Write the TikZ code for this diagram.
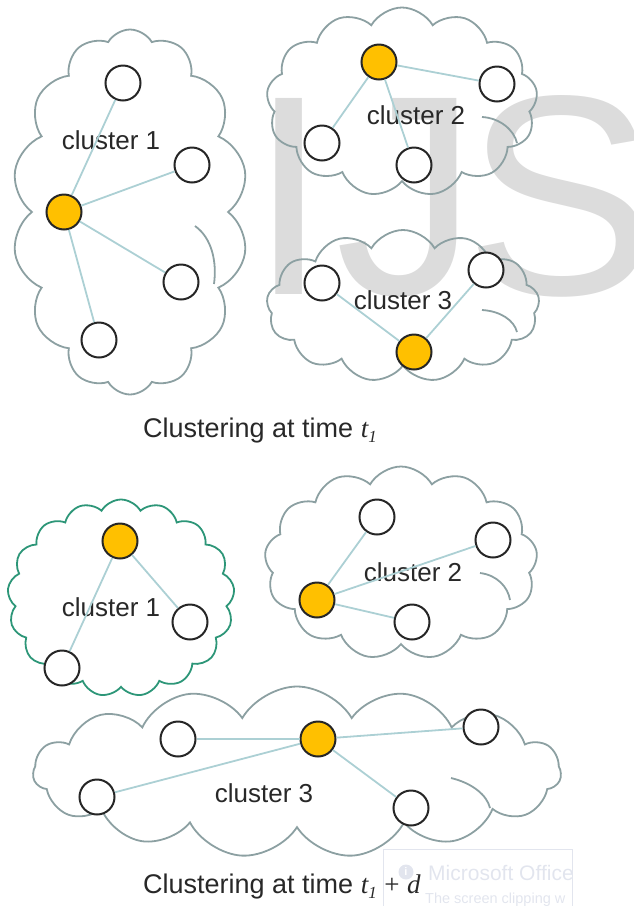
\documentclass[tikz,border=0pt]{standalone}
\usepackage{fontspec}
\setmainfont{Liberation Sans}
\newfontfamily\timesf{Liberation Serif}
\usetikzlibrary{shapes.symbols}
\definecolor{cloudc}{RGB}{140,160,162}
\definecolor{greenc}{RGB}{45,150,120}
\definecolor{edgec}{RGB}{172,208,212}
\definecolor{orangec}{RGB}{255,192,0}
\definecolor{ringc}{RGB}{38,38,38}
\definecolor{textc}{RGB}{40,40,40}
\definecolor{wmc}{RGB}{220,220,220}
\definecolor{faintc}{RGB}{226,229,238}
\tikzset{
 cl/.style={cloud, cloud ignores aspect, draw=cloudc, line width=1.8pt, inner sep=0pt, cloud puff arc=120},
 inarc/.style={draw=cloudc, line width=1.8pt},
 wn/.style={circle, draw=ringc, line width=2pt, fill=white, minimum size=35pt, inner sep=0pt},
 on/.style={wn, fill=orangec},
 ed/.style={draw=edgec, line width=1.8pt},
 lab/.style={font=\fontsize{26}{30}\selectfont, text=textc, inner sep=0pt},
 captext/.style={font=\fontsize{27}{32}\selectfont, text=textc, inner sep=0pt, anchor=base west},
 wmark/.style={anchor=base west, inner sep=0pt, text=wmc, font=\fontsize{285}{285}\selectfont},
}
\newcommand{\subone}{\raisebox{-5pt}{\fontsize{17}{17}\selectfont\timesf\itshape 1}}
\begin{document}
\begin{tikzpicture}[x=1pt,y=-1pt]
\useasboundingbox (0,0) rectangle (633,906);
\clip (0,0) rectangle (633,906);
% watermark
\node[wmark] (wmI) at (249,294) {I};
\node[wmark] (wmJ) at (335,294) {J};
\node[wmark] (wmS) at (465,294) {S};

% ---------- top: clouds
\node[cl, cloud puffs=14, minimum width=236pt, minimum height=365pt] (k1) at (130,212) {};
\node[cl, cloud puffs=13, minimum width=271pt, minimum height=189pt] (k2) at (402,102) {};
\node[cl, cloud puffs=13, minimum width=273pt, minimum height=152pt] (k3) at (403,306) {};
\draw[inarc] (195,226) .. controls (212,238) and (217,262) .. (214,284);
\draw[inarc] (482,117) .. controls (500,118) and (514,130) .. (517,143);
\draw[inarc] (482,310) .. controls (500,311) and (514,320) .. (517,332);

% top cluster 1
\node[wn] (a1) at (123,83) {};
\node[wn] (a2) at (192,165) {};
\node[on] (ao) at (64,212) {};
\node[wn] (a3) at (181,282) {};
\node[wn] (a4) at (99,340) {};
\node[lab] (la) at (111,140) {cluster 1};
\draw[ed] (ao) -- (a1); \draw[ed] (ao) -- (a2); \draw[ed] (ao) -- (a3); \draw[ed] (ao) -- (a4);

% top cluster 2
\node[on] (bo) at (379,62) {};
\node[wn] (b1) at (497,84) {};
\node[wn] (b2) at (322,143) {};
\node[wn] (b3) at (414,165) {};
\node[lab] (lb) at (416,115) {cluster 2};
\draw[ed] (bo) -- (b1); \draw[ed] (bo) -- (b2); \draw[ed] (bo) -- (b3);

% top cluster 3
\node[wn] (c1) at (322,283) {};
\node[wn] (c2) at (486,270) {};
\node[on] (co) at (414,352) {};
\node[lab] (lc) at (403,300) {cluster 3};
\draw[ed] (co) -- (c1); \draw[ed] (co) -- (c2);

\node[captext] (cap1) at (143,437) {Clustering at time {\timesf\itshape t}\subone};

% ---------- bottom: clouds
\node[cl, draw=greenc, cloud puffs=17, minimum width=227pt, minimum height=197pt] (m1) at (121,598) {};
\node[cl, cloud puffs=13, minimum width=273pt, minimum height=193pt] (m2) at (401,563) {};
\node[cl, cloud puffs=15, minimum width=528pt, minimum height=171pt] (m3) at (297,772) {};
\draw[inarc] (480,573) .. controls (497,575) and (508,587) .. (510,600);
\draw[inarc] (451,778) .. controls (472,783) and (487,795) .. (490,808);

% bottom cluster 1
\node[on] (do) at (120,541) {};
\node[wn] (d1) at (190,622) {};
\node[wn] (d2) at (62,668) {};
\node[lab] (ld) at (111,607) {cluster 1};
\draw[ed] (do) -- (d1); \draw[ed] (do) -- (d2);

% bottom cluster 2
\node[wn] (e1) at (377,517) {};
\node[wn] (e2) at (493,540) {};
\node[on] (eo) at (317,600) {};
\node[wn] (e3) at (412,622) {};
\node[lab] (le) at (413,572) {cluster 2};
\draw[ed] (eo) -- (e1); \draw[ed] (eo) -- (e2); \draw[ed] (eo) -- (e3);

% bottom cluster 3
\node[wn] (f1) at (178,739) {};
\node[wn] (f2) at (97,797) {};
\node[on] (fo) at (318,739) {};
\node[wn] (f3) at (481,727) {};
\node[wn] (f4) at (411,808) {};
\node[lab] (lf) at (264,793) {cluster 3};
\draw[ed] (fo) -- (f1); \draw[ed] (fo) -- (f2); \draw[ed] (fo) -- (f3); \draw[ed] (fo) -- (f4);

% faint screen-clipping overlay (behind the caption)
\draw[draw=faintc, line width=0.8pt] (383,849) rectangle (572,912);
\node[circle, fill=faintc, minimum size=15pt, inner sep=0pt, text=white, font=\bfseries\fontsize{11}{11}\selectfont] (ic) at (406,872) {i};
\node[anchor=base west, inner sep=0pt, text=faintc, font=\fontsize{21}{21}\selectfont] (ms) at (428,880) {Microsoft Office};
\node[anchor=base west, inner sep=0pt, text=faintc, font=\fontsize{14.5}{14.5}\selectfont] (ms2) at (425,903) {The screen clipping w};

\node[captext] (cap2) at (143,893) {Clustering at time {\timesf\itshape t}\subone\ {\timesf +} {\timesf\itshape d}};
\end{tikzpicture}
\end{document}
